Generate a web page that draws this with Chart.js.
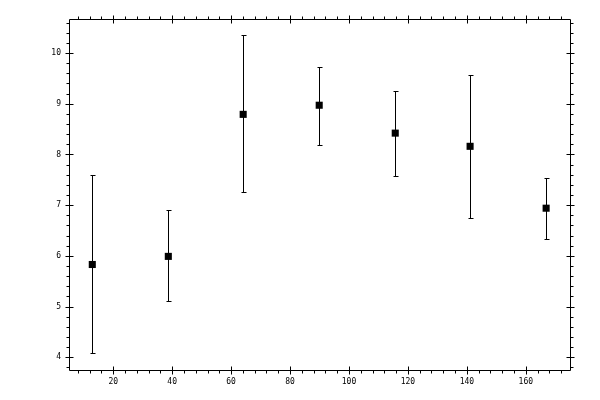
<!DOCTYPE html>
<html>
<head>
<meta charset="utf-8">
<script src="https://cdn.jsdelivr.net/npm/chart.js@4/dist/chart.umd.min.js"></script>
<style>
html,body{margin:0;padding:0;background:#fff;}
canvas{display:block;}
</style>
</head>
<body>
<canvas id="c" width="600" height="400"></canvas>
<script>
// Data
const xValues = [12.9, 38.7, 64.1, 89.9, 115.7, 141.1, 166.9];
const yValues = [5.83, 5.99, 8.79, 8.97, 8.42, 8.16, 6.94];
const yHigh   = [7.59, 6.90, 10.35, 9.73, 9.26, 9.57, 7.53];
const yLow    = [4.08, 5.11, 7.25, 8.18, 7.57, 6.74, 6.33];

// Tick labels
const xTickValues = [20, 40, 60, 80, 100, 120, 140, 160];
const yTickValues = [4, 5, 6, 7, 8, 9, 10];
const xMinorStep = 4;
const yMinorStep = 0.2;

const points = xValues.map((x, i) => ({x: x, y: yValues[i]}));

const frameTicks = {
  id: 'frameTicks',
  beforeDatasetsDraw(chart) {
    const {ctx, scales: {x, y}} = chart;
    ctx.save();
    ctx.strokeStyle = '#000';
    ctx.lineWidth = 1;
    ctx.beginPath();
    for (let i = 0; i < xValues.length; i++) {
      const px = Math.round(x.getPixelForValue(xValues[i])) + 0.5;
      const ph = Math.round(y.getPixelForValue(yHigh[i])) + 0.5;
      const pl = Math.round(y.getPixelForValue(yLow[i])) + 0.5;
      ctx.moveTo(px, ph); ctx.lineTo(px, pl);
      ctx.moveTo(px - 2, ph); ctx.lineTo(px + 3, ph);
      ctx.moveTo(px - 2, pl); ctx.lineTo(px + 3, pl);
    }
    ctx.stroke();
    ctx.restore();
  },
  afterDraw(chart) {
    const {ctx, chartArea: a, scales: {x, y}} = chart;
    const L = Math.round(a.left) + 0.5, R = Math.round(a.right) + 0.5;
    const T = Math.round(a.top) + 0.5, B = Math.round(a.bottom) + 0.5;
    ctx.save();
    ctx.strokeStyle = '#000';
    ctx.lineWidth = 1;
    ctx.beginPath();
    ctx.rect(L, T, R - L, B - T);
    const isMajor = (v, arr) => arr.some(t => Math.abs(t - v) < 1e-6);
    // x ticks
    const xs = Math.ceil(x.min / xMinorStep) * xMinorStep;
    for (let v = xs; v <= x.max + 1e-9; v += xMinorStep) {
      const p = Math.round(x.getPixelForValue(v)) + 0.5;
      if (isMajor(v, xTickValues)) {
        ctx.moveTo(p, B - 4); ctx.lineTo(p, B + 4);
        ctx.moveTo(p, T - 4); ctx.lineTo(p, T + 4);
      } else {
        ctx.moveTo(p, B); ctx.lineTo(p, B + 3);
        ctx.moveTo(p, T); ctx.lineTo(p, T - 3);
      }
    }
    // y ticks
    const ys = Math.ceil(y.min / yMinorStep - 1e-9) * yMinorStep;
    for (let k = 0; ; k++) {
      const v = ys + k * yMinorStep;
      if (v > y.max + 1e-9) break;
      const p = Math.round(y.getPixelForValue(v)) + 0.5;
      if (isMajor(v, yTickValues)) {
        ctx.moveTo(L - 4, p); ctx.lineTo(L + 4, p);
        ctx.moveTo(R - 4, p); ctx.lineTo(R + 4, p);
      } else {
        ctx.moveTo(L, p); ctx.lineTo(L - 3, p);
        ctx.moveTo(R, p); ctx.lineTo(R + 3, p);
      }
    }
    ctx.stroke();
    ctx.restore();
  }
};

new Chart(document.getElementById('c'), {
  type: 'scatter',
  data: {
    datasets: [{
      data: points,
      pointStyle: 'rect',
      pointRadius: 5,
      pointHoverRadius: 5,
      backgroundColor: '#000',
      borderColor: '#000',
      borderWidth: 0
    }]
  },
  options: {
    responsive: false,
    animation: false,
    devicePixelRatio: 1,
    layout: {padding: {left: 0, top: 19, right: 30, bottom: 0}},
    plugins: {legend: {display: false}, tooltip: {enabled: false}},
    scales: {
      x: {
        type: 'linear',
        min: 5, max: 175,
        grid: {display: false, drawTicks: false},
        border: {display: false},
        afterBuildTicks: s => { s.ticks = xTickValues.map(v => ({value: v})); },
        afterFit: s => { s.height = 30; },
        ticks: {
          color: '#000',
          padding: 7,
          maxRotation: 0,
          font: {family: 'DejaVu Sans Mono', size: 8}
        }
      },
      y: {
        type: 'linear',
        min: 3.75, max: 10.67,
        grid: {display: false, drawTicks: false},
        border: {display: false},
        afterBuildTicks: s => { s.ticks = yTickValues.map(v => ({value: v})); },
        afterFit: s => { s.width = 69; },
        ticks: {
          color: '#000',
          padding: 8,
          font: {family: 'DejaVu Sans Mono', size: 8}
        }
      }
    }
  },
  plugins: [frameTicks]
});
</script>
</body>
</html>
